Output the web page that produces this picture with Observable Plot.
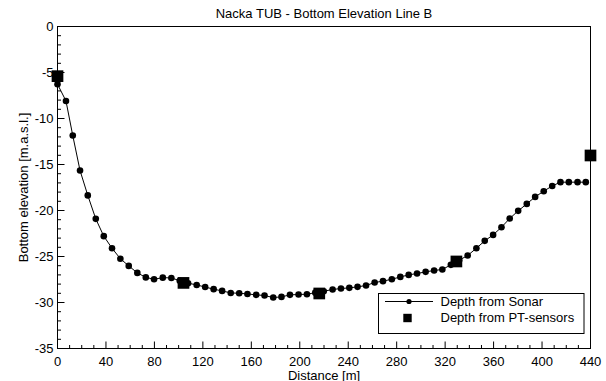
<!DOCTYPE html>
<html><head><meta charset="utf-8">
<script src="https://cdn.jsdelivr.net/npm/d3@7"></script>
<script src="https://cdn.jsdelivr.net/npm/@observablehq/plot@0.6"></script>
<style>html,body{margin:0;padding:0;background:#fff}</style>
</head><body><div id="chart"></div>
<script>
// Sonar survey: distance along line [m] and bottom elevation [m.a.s.l.]
const sonarDistance = [0,7.0,12.6,18.6,25.0,31.6,38.2,45.0,51.9,58.8,65.9,72.9,79.7,86.9,94.0,100.9,107.8,114.9,121.9,128.9,135.9,143.0,150.0,156.8,164.0,170.9,178.1,184.9,191.9,199.0,205.9,212.8,219.8,227.1,234.0,240.9,247.7,254.7,261.8,268.7,276.0,283.0,289.9,296.8,303.9,310.9,317.7,324.7,331.6,338.6,345.8,352.7,359.6,366.5,373.3,380.3,387.4,394.3,401.4,408.4,415.2,422.1,429.3,436.1];
const sonarElevation = [-6.27,-8.09,-11.85,-15.65,-18.36,-20.91,-22.79,-24.10,-25.24,-26.02,-26.78,-27.27,-27.47,-27.30,-27.33,-27.63,-27.90,-28.09,-28.32,-28.55,-28.74,-28.96,-28.99,-29.07,-29.17,-29.24,-29.46,-29.39,-29.17,-29.13,-29.10,-28.93,-28.77,-28.59,-28.48,-28.41,-28.30,-28.15,-27.83,-27.68,-27.47,-27.22,-27.00,-26.85,-26.67,-26.52,-26.41,-25.91,-25.40,-24.89,-24.10,-23.30,-22.65,-21.82,-20.87,-20.04,-19.28,-18.52,-17.90,-17.33,-16.92,-16.92,-16.92,-16.92];
// PT-sensors
const sensorDistance = [0,104.0,216.1,329.3,440];
const sensorElevation = [-5.4,-27.87,-29.02,-25.54,-14.02];
// Tick labels
const xTicks = [0,40,80,120,160,200,240,280,320,360,400,440];
const yTicks = [0,-5,-10,-15,-20,-25,-30,-35];
const xMinor = d3.range(0,441,10).filter(d => d % 40 !== 0);
const yMinor = d3.range(0,-36,-1).filter(d => d % 5 !== 0);

const titleText = "Nacka TUB - Bottom Elevation Line B";
const xLabel = "Distance [m]";
const yLabel = "Bottom elevation [m.a.s.l.]";
const legendLabels = ["Depth from Sonar","Depth from PT-sensors"];

const sonar = sonarDistance.map((d,i) => ({distance: d, elevation: sonarElevation[i]}));
const sensors = sensorDistance.map((d,i) => ({distance: d, elevation: sensorElevation[i]}));

const fontFamily = "'Liberation Sans', Arial, Helvetica, sans-serif";
const tickShape = (dx, dy) => ({draw(ctx){ ctx.moveTo(0,0); ctx.lineTo(dx,dy); }});

const plot = Plot.plot({
  width: 606, height: 381,
  marginLeft: 57, marginRight: 16, marginTop: 26, marginBottom: 33,
  style: {fontFamily, fontSize: "13px", background: "white", color: "black", overflow: "visible"},
  x: {domain: [0,440]},
  y: {domain: [-35,0]},
  marks: [
    Plot.frame({stroke: "black", strokeWidth: 1}),
    Plot.dot(xMinor, {x: d => d, frameAnchor: "bottom", symbol: tickShape(0,-3.5), stroke: "black", fill: "none", strokeWidth: 1}),
    Plot.dot(xTicks, {x: d => d, frameAnchor: "bottom", symbol: tickShape(0,-7), stroke: "black", fill: "none", strokeWidth: 1}),
    Plot.dot(yMinor, {y: d => d, frameAnchor: "left", symbol: tickShape(3.5,0), stroke: "black", fill: "none", strokeWidth: 1}),
    Plot.dot(yTicks, {y: d => d, frameAnchor: "left", symbol: tickShape(7,0), stroke: "black", fill: "none", strokeWidth: 1}),
    Plot.axisX({ticks: xTicks, tickSize: 0, tickPadding: 8, tickFormat: d => String(d), label: null, fontSize: 13}),
    Plot.axisY({ticks: yTicks, tickSize: 0, tickPadding: 4, tickFormat: d => String(d), label: null, fontSize: 13}),
    Plot.line(sonar, {x: "distance", y: "elevation", stroke: "black", strokeWidth: 1}),
    Plot.dot(sonar, {x: "distance", y: "elevation", r: 3.3, fill: "black", stroke: "none"}),
    Plot.dot(sensors, {x: "distance", y: "elevation", symbol: "square", r: 6.6, fill: "black", stroke: "none"}),
    Plot.text([titleText], {text: d => d, frameAnchor: "top", lineAnchor: "bottom", dy: -9, fontSize: 13, fill: "black"}),
    Plot.text([xLabel], {text: d => d, frameAnchor: "bottom", lineAnchor: "bottom", dy: 31, fontSize: 13, fill: "black"}),
    Plot.text([yLabel], {text: d => d, frameAnchor: "left", textAnchor: "middle", lineAnchor: "bottom", rotate: -90, dx: -30, fontSize: 13, fill: "black"})
  ]
});

// Legend box inside the plot (lower right)
const svg = d3.select(plot);
const g = svg.append("g").attr("font-family", fontFamily).attr("font-size", 13).attr("fill", "black").attr("text-anchor", "start");
g.append("rect").attr("x", 378.5).attr("y", 293.5).attr("width", 205.5).attr("height", 40).attr("fill", "white").attr("stroke", "black");
g.append("line").attr("x1", 385).attr("x2", 433).attr("y1", 301.5).attr("y2", 301.5).attr("stroke", "black");
g.append("circle").attr("cx", 409).attr("cy", 301.5).attr("r", 2.6).attr("fill", "black");
g.append("text").attr("x", 440.5).attr("y", 306).attr("text-anchor", "start").text(legendLabels[0]);
g.append("rect").attr("x", 403.3).attr("y", 313.8).attr("width", 8.4).attr("height", 8.4).attr("fill", "black");
g.append("text").attr("x", 440.5).attr("y", 322).attr("text-anchor", "start").text(legendLabels[1]);

document.getElementById("chart").appendChild(plot);
</script>
</body></html>
